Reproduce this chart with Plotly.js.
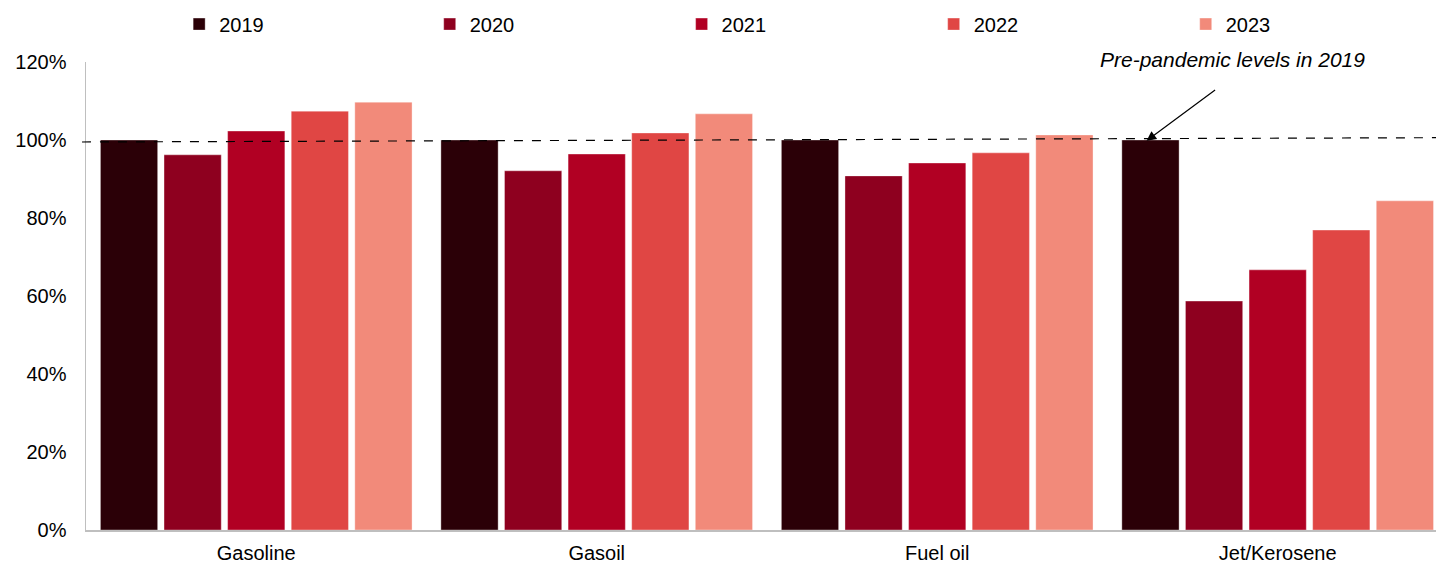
<!DOCTYPE html>
<html>
<head>
<meta charset="utf-8">
<script src="https://cdn.plot.ly/plotly-3.0.1.min.js"></script>
<style>html,body{margin:0;padding:0;background:#fff}#chart{width:1436px;height:562px}</style>
</head>
<body>
<div id="chart"></div>
<script>
const categories = ["Gasoline", "Gasoil", "Fuel oil", "Jet/Kerosene"];
const years = ["2019", "2020", "2021", "2022", "2023"];
const v2019 = [100, 100, 100, 100];
const v2020 = [96.2, 92.1, 90.8, 58.7];
const v2021 = [102.3, 96.4, 94.1, 66.7];
const v2022 = [107.4, 101.8, 96.7, 76.9];
const v2023 = [109.7, 106.7, 101.3, 84.4];
const yTicks = [0, 20, 40, 60, 80, 100, 120];
const yTickLabels = ["0%", "20%", "40%", "60%", "80%", "100%", "120%"];
const noteText = "Pre-pandemic levels in 2019";
const colors = ["#2b0007", "#8e001f", "#b10023", "#e04644", "#f28a7a"];

const series = [v2019, v2020, v2021, v2022, v2023];
const font = "Liberation Sans, Arial, sans-serif";
const legendIds = ["legend", "legend2", "legend3", "legend4", "legend5"];
const legendX = [0.0690, 0.2546, 0.4412, 0.6279, 0.8146];

const traces = series.map((vals, i) => ({
  type: "bar",
  name: years[i],
  x: categories,
  y: vals,
  legend: legendIds[i],
  marker: {color: colors[i], line: {color: "rgba(255,255,255,0.35)", width: 1}},
  hoverinfo: "x+y+name"
}));

const layout = {
  width: 1436, height: 562,
  margin: {l: 86, r: 0, t: 62, b: 32, pad: 0},
  paper_bgcolor: "#ffffff", plot_bgcolor: "#ffffff",
  font: {family: font, size: 20, color: "#000000"},
  barmode: "group",
  bargap: 0.066,
  bargroupgap: 0.1,
  showlegend: true,
  xaxis: {
    type: "category", range: [-0.5, 3.465], showgrid: false, zeroline: false,
    showline: true, linecolor: "#bfbfbf", linewidth: 1.5, ticks: "",
    ticklabelstandoff: 4,
    tickfont: {family: font, size: 20, color: "#000"}
  },
  yaxis: {
    range: [0, 120], tickvals: yTicks, ticktext: yTickLabels,
    showgrid: false, zeroline: false, showline: true, linecolor: "#bfbfbf", linewidth: 1.5,
    ticks: "", ticklabelstandoff: 14,
    tickfont: {family: font, size: 20, color: "#000"}
  },
  shapes: [{
    type: "line", xref: "paper", yref: "y",
    x0: -0.003, x1: 1.0, y0: 99.49, y1: 100.59,
    line: {color: "#000", width: 1.2, dash: "dash"}
  }],
  annotations: [
    {
      xref: "x", yref: "y", x: 2.615, y: 99.8, ax: 70, ay: -52,
      showarrow: true, arrowhead: 2, arrowsize: 1.6, arrowwidth: 1.2, arrowcolor: "#000", text: ""
    },
    {
      xref: "paper", yref: "paper", x: 0.849, y: 1.005, xanchor: "center", yanchor: "middle",
      showarrow: false, text: "<i>" + noteText + "</i>",
      font: {family: font, size: 21, color: "#000"}
    }
  ]
};

legendIds.forEach((id, i) => {
  layout[id] = {
    orientation: "h", x: legendX[i], xanchor: "left", y: 1.081, yanchor: "middle",
    itemwidth: 30, font: {family: font, size: 20, color: "#000"},
    bgcolor: "rgba(0,0,0,0)", borderwidth: 0
  };
});

Plotly.newPlot("chart", traces, layout, {staticPlot: true, displayModeBar: false});
</script>
</body>
</html>
